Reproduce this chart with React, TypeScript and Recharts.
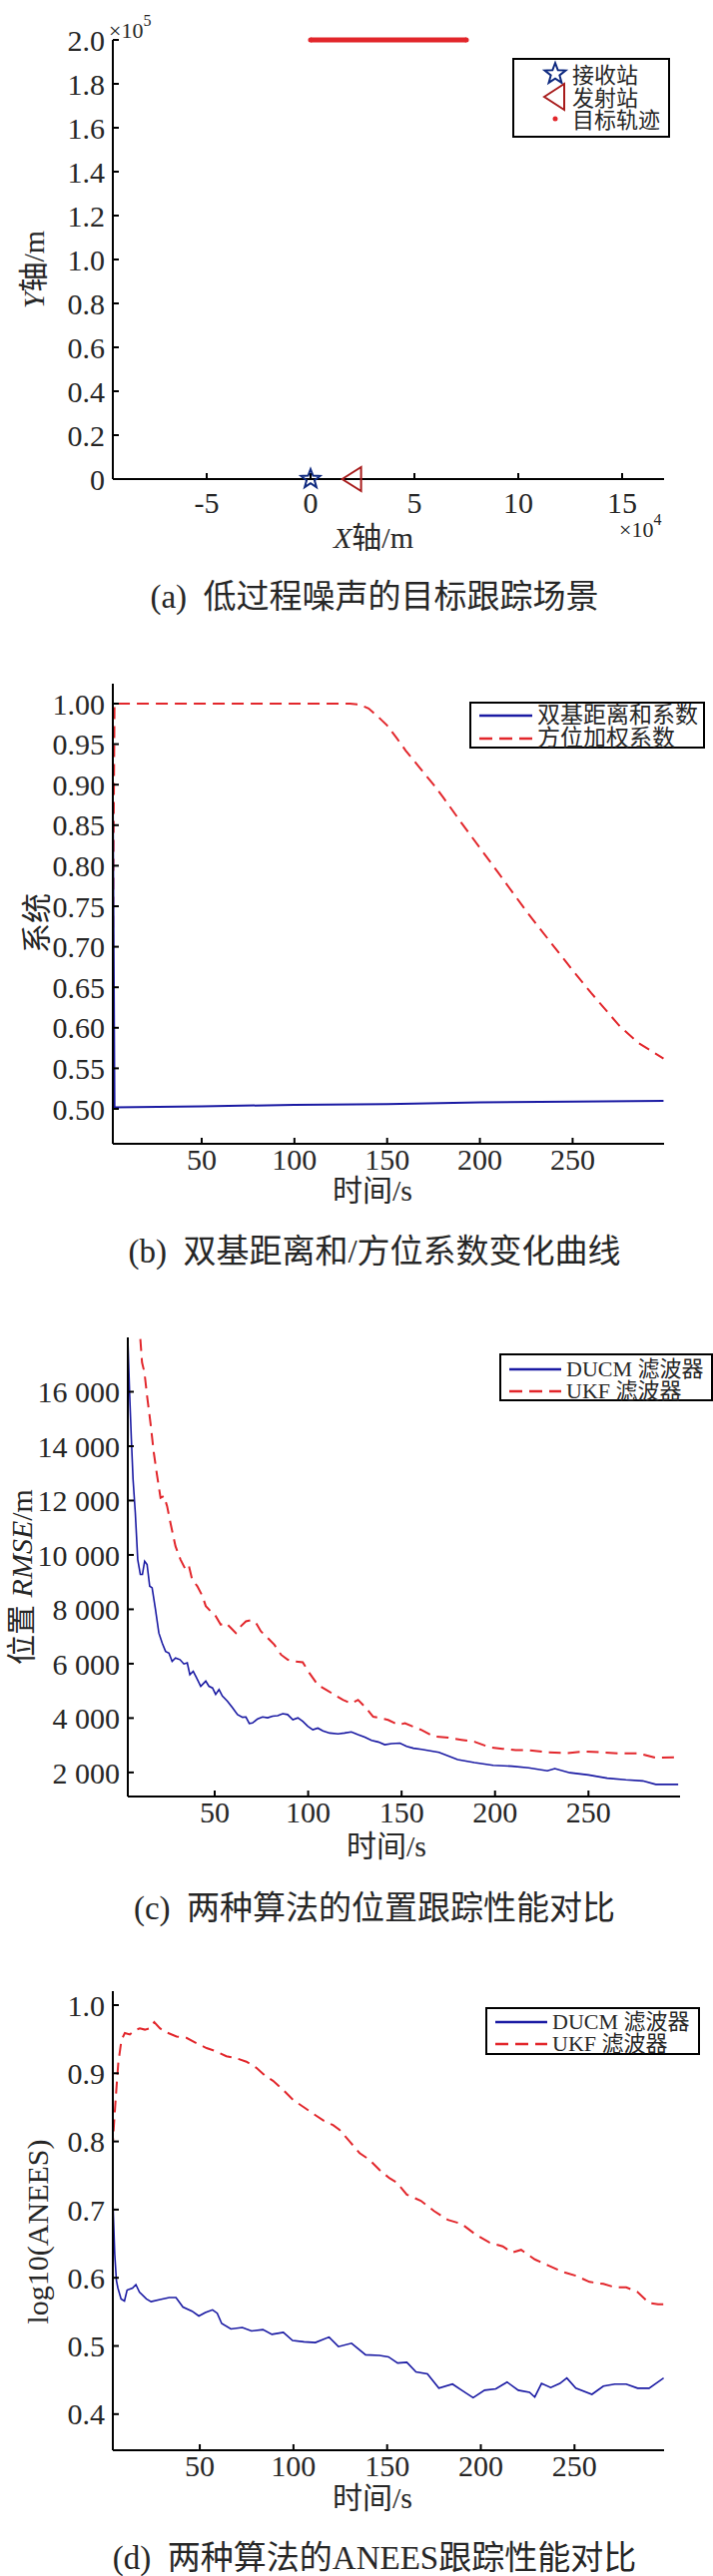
import React from 'react';
import { ScatterChart, Scatter, LineChart, Line, XAxis, YAxis, Legend, Label } from 'recharts';

const FONT = "'Liberation Serif', 'Noto Sans CJK SC', serif";
const INK = '#262626';
const BLUE = '#1a1aa3';
const RED = '#e2262b';
const DASH = '12 7';

// (a) scene
const receiverPos = [{ x: 0, y: 0 }];
const transmitterPos = [{ x: 20000, y: 0 }];
const targetTrack = [{ x: 0, y: 200000 }, { x: 75000, y: 200000 }];
const sceneXTicks = [-50000, 0, 50000, 100000, 150000];
const sceneYTicks = [0, 20000, 40000, 60000, 80000, 100000, 120000, 140000, 160000, 180000, 200000];

// (b) coefficients
const coefSumT = [2.1, 3, 50, 100, 150, 200, 250, 299];
const coefSumV = [0.88, 0.502, 0.503, 0.505, 0.506, 0.508, 0.509, 0.51];
const coefAzT = [2.1, 3, 50, 100, 130, 135, 140, 145, 150, 155, 160, 165, 170, 175, 180, 190, 200, 210, 225, 240, 250, 260, 275, 285, 299];
const coefAzV = [0.7, 1.0, 1.0, 1.0, 1.0, 0.999, 0.994, 0.984, 0.973, 0.958, 0.942, 0.928, 0.914, 0.9, 0.885, 0.853, 0.822, 0.791, 0.744, 0.7, 0.671, 0.643, 0.603, 0.582, 0.562];
const coefYTicks = [0.5, 0.55, 0.6, 0.65, 0.7, 0.75, 0.8, 0.85, 0.9, 0.95, 1.0];

// (c) position RMSE
const rmseDucmT = [3.5, 4.5, 5.4, 6.3, 7.5, 8.8, 10.2, 11.3, 12.5, 13.8, 15.2, 16.5, 18.3, 20.1, 21.9, 23.7, 25.5, 27.2, 29, 31.4, 33.5, 35.3, 36.7, 38.5, 40.3, 42.5, 45.2, 46.9, 48.8, 50.5, 52.3, 54.1, 56.8, 59.5, 62.2, 64.9, 66.7, 68.5, 70.2, 73, 75.6, 78.3, 81, 83.7, 86.4, 89, 91.8, 94.5, 97.1, 99.8, 102.5, 105.2, 107.9, 111.5, 116, 119.5, 123.1, 126.7, 130.3, 133.9, 137.5, 141, 144.6, 149.1, 152.7, 156.3, 160.7, 170, 180, 189, 199, 209, 218, 228, 232, 240, 250, 260, 270, 279, 286, 298];
const rmseDucmV = [17950, 15850, 14250, 12780, 11550, 9830, 9280, 9280, 9770, 9650, 8850, 8790, 7990, 7130, 6760, 6450, 6390, 6090, 6210, 6150, 5990, 6030, 5600, 5720, 5480, 5170, 5360, 5170, 5110, 4870, 5050, 4810, 4620, 4380, 4130, 4030, 4040, 3800, 3820, 3970, 4040, 4010, 4070, 4090, 4160, 4130, 3940, 4010, 3880, 3700, 3570, 3630, 3530, 3450, 3420, 3450, 3490, 3390, 3300, 3180, 3120, 3020, 3060, 3080, 2960, 2890, 2850, 2740, 2470, 2360, 2260, 2230, 2170, 2060, 2140, 1990, 1910, 1790, 1730, 1690, 1560, 1560];
const rmseUkfT = [10.2, 11.1, 12.4, 13.8, 15.6, 17.4, 19.2, 21, 22.8, 24.5, 26.3, 29, 31.7, 34.4, 36.2, 37.9, 40.7, 43.4, 45.2, 47.8, 50.5, 53.2, 55.9, 58.6, 61.3, 64, 66.7, 69.4, 72.1, 74.7, 78.3, 81.9, 85.5, 89, 92.6, 97.1, 100.7, 105.2, 109.7, 114.2, 118.6, 123.1, 126.7, 130.3, 134.8, 139.2, 142.8, 148.2, 151.8, 156.3, 160.7, 167, 175, 182, 189, 197, 204, 211, 218, 228, 238, 248, 257, 267, 277, 286, 298];
const rmseUkfV = [17940, 17080, 16710, 15850, 14870, 13760, 12900, 12100, 12170, 11800, 11180, 10320, 9830, 9460, 9590, 9100, 8850, 8490, 8120, 7930, 7750, 7440, 7500, 7320, 7130, 7380, 7560, 7600, 7500, 7190, 6950, 6700, 6330, 6150, 6090, 6050, 5650, 5220, 5040, 4850, 4670, 4540, 4670, 4420, 4050, 3990, 3930, 3750, 3810, 3680, 3560, 3330, 3280, 3200, 3130, 2930, 2870, 2820, 2820, 2740, 2710, 2770, 2740, 2700, 2700, 2540, 2560];
const rmseYTicks = [2000, 4000, 6000, 8000, 10000, 12000, 14000, 16000];

// (d) log10(ANEES)
const aneesDucmT = [3.4, 4.6, 5.5, 6.3, 8, 9.8, 11.2, 14.1, 15.9, 17.8, 21.5, 24, 28.8, 33.7, 37.3, 41, 45.9, 49.5, 53, 56.8, 59.3, 61.7, 66.6, 72.7, 77.6, 83.7, 88.5, 94.6, 99.5, 105.6, 111.7, 119, 124, 131, 138.5, 145.9, 150.7, 155.6, 160.5, 165.4, 171.5, 177.6, 184.9, 189.8, 195.9, 202, 208, 214, 220, 226, 228.8, 232.4, 237.3, 242.2, 245.9, 250.7, 259.3, 265.4, 271.5, 277.6, 283.7, 289.8, 297.6];
const aneesDucmV = [0.729, 0.635, 0.596, 0.585, 0.569, 0.566, 0.582, 0.585, 0.59, 0.579, 0.569, 0.565, 0.568, 0.571, 0.571, 0.557, 0.551, 0.544, 0.549, 0.553, 0.548, 0.533, 0.525, 0.527, 0.522, 0.524, 0.517, 0.52, 0.508, 0.506, 0.505, 0.513, 0.499, 0.504, 0.487, 0.486, 0.484, 0.475, 0.476, 0.462, 0.459, 0.438, 0.444, 0.435, 0.424, 0.435, 0.437, 0.447, 0.435, 0.432, 0.425, 0.445, 0.439, 0.445, 0.453, 0.438, 0.429, 0.441, 0.444, 0.444, 0.438, 0.438, 0.453];
const aneesUkfT = [3.4, 4.1, 5.2, 6.5, 8.2, 10, 12.7, 15.4, 18, 20.7, 23.3, 25.7, 28.7, 32.2, 37.6, 42.9, 48.2, 53.6, 58.9, 64.2, 69.5, 74.9, 80.2, 85.5, 89.1, 94.4, 99.8, 105.1, 110.4, 115.8, 121.1, 124.6, 130, 135.3, 140.6, 146, 151.3, 155, 160.5, 168, 175, 182.4, 189.8, 197, 204.4, 211.7, 216.6, 221.5, 228.8, 236, 243.4, 250.7, 258, 265.4, 271.5, 277.6, 283.7, 289.8, 294.6, 297.6];
const aneesUkfV = [0.787, 0.821, 0.866, 0.915, 0.949, 0.959, 0.957, 0.963, 0.966, 0.964, 0.966, 0.975, 0.966, 0.96, 0.954, 0.952, 0.944, 0.937, 0.932, 0.925, 0.922, 0.917, 0.908, 0.895, 0.889, 0.876, 0.861, 0.851, 0.841, 0.831, 0.824, 0.817, 0.8, 0.783, 0.773, 0.758, 0.746, 0.74, 0.722, 0.713, 0.698, 0.685, 0.679, 0.664, 0.652, 0.646, 0.637, 0.641, 0.627, 0.618, 0.609, 0.603, 0.594, 0.591, 0.586, 0.586, 0.579, 0.563, 0.561, 0.561];
const aneesYTicks = [0.4, 0.5, 0.6, 0.7, 0.8, 0.9, 1.0];

const timeTicks = [50, 100, 150, 200, 250];

const zip = (t: number[], v: number[]) => t.map((x, i) => ({ t: x, v: v[i] }));

const tickStyle = { fontSize: 30, fontFamily: FONT, fill: INK };
const axisLine = { stroke: '#000', strokeWidth: 2 };
const tickLine = { stroke: '#000', strokeWidth: 2 };

function starPath(cx: number, cy: number, R: number, r: number) {
  const pts: string[] = [];
  for (let i = 0; i < 10; i++) {
    const a = -Math.PI / 2 + (i * Math.PI) / 5;
    const rad = i % 2 === 0 ? R : r;
    pts.push(`${cx + rad * Math.cos(a)},${cy + rad * Math.sin(a)}`);
  }
  return 'M' + pts.join('L') + 'Z';
}

const StarShape = (p: any) => <path d={starPath(p.cx, p.cy, 10, 4.2)} fill="none" stroke="#0f2a80" strokeWidth={2} />;
const TriShape = (p: any) => (
  <path d={`M${p.cx - 10},${p.cy} L${p.cx + 9},${p.cy - 12} L${p.cx + 9},${p.cy + 12} Z`} fill="none" stroke="#a81c1c" strokeWidth={2} />
);
const DotShape = (p: any) => <circle cx={p.cx} cy={p.cy} r={2.5} fill={RED} />;

// fixed-position svg text for axis titles
const title = (el: React.ReactNode) => () => el as any;

function xTitle(x: number, y: number, body: React.ReactNode) {
  return (
    <text x={x} y={y} textAnchor="middle" dominantBaseline="central" fontSize={30} fontFamily={FONT} fill={INK}>
      {body}
    </text>
  );
}

function yTitle(x: number, y: number, body: React.ReactNode) {
  return (
    <text x={x} y={y} transform={`rotate(-90 ${x} ${y})`} textAnchor="middle" dominantBaseline="central" fontSize={30} fontFamily={FONT} fill={INK}>
      {body}
    </text>
  );
}

type Item = { label: string; mark: 'solid' | 'dash' };

function LineLegend({ w, h, rows, sample, textLeft, size }: { w: number; h: number; rows: number[]; sample: [number, number]; textLeft: number; size: number }) {
  const items: Item[] = size === 23
    ? [{ label: '双基距离和系数', mark: 'solid' }, { label: '方位加权系数', mark: 'dash' }]
    : [{ label: 'DUCM 滤波器', mark: 'solid' }, { label: 'UKF 滤波器', mark: 'dash' }];
  return (
    <div style={{ position: 'relative', boxSizing: 'border-box', width: w, height: h, border: '2px solid #000', background: '#fff', fontFamily: FONT, fontSize: size, color: INK }}>
      {items.map((it, i) => (
        <div key={it.label} style={{ position: 'absolute', left: 0, top: rows[i] - 14, height: 28, width: w - 4 }}>
          <svg width={sample[1]} height={28} style={{ position: 'absolute', left: 0, top: 0 }}>
            <line x1={sample[0]} x2={sample[1]} y1={14} y2={14} stroke={it.mark === 'solid' ? BLUE : RED} strokeWidth={2.5} strokeDasharray={it.mark === 'dash' ? '13 7' : undefined} />
          </svg>
          <span style={{ position: 'absolute', left: textLeft, top: 0, lineHeight: '28px', whiteSpace: 'nowrap' }}>{it.label}</span>
        </div>
      ))}
    </div>
  );
}

function SceneLegend() {
  const rows = [
    { label: '接收站', icon: <path d={starPath(43, 16, 11, 4.6)} fill="none" stroke="#0f2a80" strokeWidth={2} /> },
    { label: '发射站', icon: <path d="M32,39 L52,26 L52,52 Z" fill="none" stroke="#a81c1c" strokeWidth={2} /> },
    { label: '目标轨迹', icon: <circle cx={43} cy={61} r={2.5} fill={RED} /> },
  ];
  const ys = [16, 39, 61];
  return (
    <div style={{ position: 'relative', boxSizing: 'border-box', width: 158, height: 80, border: '2px solid #000', background: '#fff', fontFamily: FONT, fontSize: 22, color: INK }}>
      <svg width={60} height={80} style={{ position: 'absolute', left: -2, top: -2 }}>
        {rows.map((r) => <g key={r.label}>{r.icon}</g>)}
      </svg>
      {rows.map((r, i) => (
        <span key={r.label} style={{ position: 'absolute', left: 58, top: ys[i] - 14, lineHeight: '28px', whiteSpace: 'nowrap' }}>{r.label}</span>
      ))}
    </div>
  );
}

const captionStyle: React.CSSProperties = {
  position: 'absolute', left: 0, width: 750, textAlign: 'center', fontFamily: FONT, fontSize: 33, color: INK, lineHeight: '36px', whiteSpace: 'nowrap',
};

export default function App() {
  return (
    <div style={{ position: 'absolute', left: 0, top: 0, width: 714, height: 2581, background: '#fff', overflow: 'hidden' }}>
      {/* (a) */}
      <div style={{ position: 'absolute', left: 0, top: 0 }}>
        <ScatterChart width={714} height={560} margin={{ top: 40, right: 49, bottom: 0, left: 0 }}>
          <XAxis type="number" dataKey="x" domain={[-95192, 170192]} ticks={sceneXTicks} tickFormatter={(v: number) => String(v / 10000)}
            height={80} tick={tickStyle} axisLine={axisLine} tickLine={tickLine} tickSize={-6} tickMargin={18.6}>
            <Label content={title(
              <g>
                {xTitle(374, 538, <><tspan fontStyle="italic">X</tspan>轴/m</>)}
                <text x={620} y={538} fontSize={22} fontFamily={FONT} fill={INK}>×10<tspan dy={-12} fontSize={16}>4</tspan></text>
              </g>
            )} />
          </XAxis>
          <YAxis type="number" dataKey="y" domain={[0, 200000]} ticks={sceneYTicks} tickFormatter={(v: number) => (v === 0 ? '0' : (v / 100000).toFixed(1))}
            width={113} tick={tickStyle} axisLine={axisLine} tickLine={tickLine} tickSize={-6} tickMargin={14}>
            <Label content={title(
              <g>
                {yTitle(33, 270, <><tspan fontStyle="italic">Y</tspan>轴/m</>)}
                <text x={109} y={38} fontSize={22} fontFamily={FONT} fill={INK}>×10<tspan dy={-12} fontSize={16}>5</tspan></text>
              </g>
            )} />
          </YAxis>
          <Scatter data={targetTrack} line={{ stroke: RED, strokeWidth: 5 }} shape={DotShape} isAnimationActive={false} />
          <Scatter data={receiverPos} shape={StarShape} isAnimationActive={false} />
          <Scatter data={transmitterPos} shape={TriShape} isAnimationActive={false} />
          <Legend layout="horizontal" verticalAlign="middle" align="center" wrapperStyle={{ left: 513, top: 58, width: 158, height: 80 }} content={() => <SceneLegend />} />
        </ScatterChart>
      </div>
      <div style={{ ...captionStyle, top: 580 }}>(a)&ensp;低过程噪声的目标跟踪场景</div>

      {/* (b) */}
      <div style={{ position: 'absolute', left: 0, top: 660 }}>
        <LineChart width={714} height={560} margin={{ top: 25, right: 49, bottom: 0, left: 0 }}>
          <XAxis type="number" dataKey="t" domain={[2.1, 299.3]} ticks={timeTicks} allowDataOverflow
            height={74} tick={tickStyle} axisLine={axisLine} tickLine={tickLine} tickSize={-6} tickMargin={11}>
            <Label content={title(xTitle(373, 532, '时间/s'))} />
          </XAxis>
          <YAxis type="number" domain={[0.4569, 1.0246]} ticks={coefYTicks} tickFormatter={(v: number) => v.toFixed(2)} allowDataOverflow
            width={113} tick={tickStyle} axisLine={axisLine} tickLine={tickLine} tickSize={-6} tickMargin={14}>
            <Label content={title(yTitle(36, 265, '系统'))} />
          </YAxis>
          <Line data={zip(coefAzT, coefAzV)} dataKey="v" type="linear" stroke={RED} strokeWidth={2} strokeDasharray={DASH} dot={false} isAnimationActive={false} />
          <Line data={zip(coefSumT, coefSumV)} dataKey="v" type="linear" stroke={BLUE} strokeWidth={2} dot={false} isAnimationActive={false} />
          <Legend layout="horizontal" verticalAlign="middle" align="center" wrapperStyle={{ left: 470, top: 43, width: 236, height: 47 }}
            content={() => <LineLegend w={236} h={47} rows={[12, 34.5]} sample={[8, 61]} textLeft={66} size={23} />} />
        </LineChart>
      </div>
      <div style={{ ...captionStyle, top: 1236 }}>(b)&ensp;双基距离和/方位系数变化曲线</div>

      {/* (c) */}
      <div style={{ position: 'absolute', left: 0, top: 1310 }}>
        <LineChart width={714} height={560} margin={{ top: 30, right: 33, bottom: 0, left: 0 }}>
          <XAxis type="number" dataKey="t" domain={[3.5, 299]} ticks={timeTicks} allowDataOverflow
            height={70} tick={tickStyle} axisLine={axisLine} tickLine={tickLine} tickSize={-6} tickMargin={11}>
            <Label content={title(xTitle(387, 539, '时间/s'))} />
          </XAxis>
          <YAxis type="number" domain={[1115, 18000]} ticks={rmseYTicks} tickFormatter={(v: number) => `${v / 1000} 000`} allowDataOverflow
            width={128} tick={tickStyle} axisLine={axisLine} tickLine={tickLine} tickSize={-6} tickMargin={14}>
            <Label content={title(yTitle(21, 270, <>位置 <tspan fontStyle="italic">RMSE</tspan>/m</>))} />
          </YAxis>
          <Line data={zip(rmseUkfT, rmseUkfV)} dataKey="v" type="linear" stroke={RED} strokeWidth={2} strokeDasharray={DASH} dot={false} isAnimationActive={false} />
          <Line data={zip(rmseDucmT, rmseDucmV)} dataKey="v" type="linear" stroke={BLUE} strokeWidth={1.6} dot={false} isAnimationActive={false} />
          <Legend layout="horizontal" verticalAlign="middle" align="center" wrapperStyle={{ left: 500, top: 46, width: 214, height: 48 }}
            content={() => <LineLegend w={214} h={48} rows={[13.6, 35.7]} sample={[8, 60]} textLeft={65} size={22} />} />
        </LineChart>
      </div>
      <div style={{ ...captionStyle, top: 1894 }}>(c)&ensp;两种算法的位置跟踪性能对比</div>

      {/* (d) */}
      <div style={{ position: 'absolute', left: 0, top: 1965 }}>
        <LineChart width={714} height={560} margin={{ top: 30, right: 49, bottom: 0, left: 0 }}>
          <XAxis type="number" dataKey="t" domain={[3.6, 297.8]} ticks={timeTicks} allowDataOverflow
            height={70} tick={tickStyle} axisLine={axisLine} tickLine={tickLine} tickSize={-6} tickMargin={11}>
            <Label content={title(xTitle(373, 537, '时间/s'))} />
          </XAxis>
          <YAxis type="number" domain={[0.347, 1.0205]} ticks={aneesYTicks} tickFormatter={(v: number) => v.toFixed(1)} allowDataOverflow
            width={113} tick={tickStyle} axisLine={axisLine} tickLine={tickLine} tickSize={-6} tickMargin={14}>
            <Label content={title(yTitle(37, 271, 'log10(ANEES)'))} />
          </YAxis>
          <Line data={zip(aneesUkfT, aneesUkfV)} dataKey="v" type="linear" stroke={RED} strokeWidth={2} strokeDasharray={DASH} dot={false} isAnimationActive={false} />
          <Line data={zip(aneesDucmT, aneesDucmV)} dataKey="v" type="linear" stroke={BLUE} strokeWidth={1.6} dot={false} isAnimationActive={false} />
          <Legend layout="horizontal" verticalAlign="middle" align="center" wrapperStyle={{ left: 486, top: 46, width: 215, height: 48 }}
            content={() => <LineLegend w={215} h={48} rows={[13, 35]} sample={[8, 60]} textLeft={65} size={22} />} />
        </LineChart>
      </div>
      <div style={{ ...captionStyle, top: 2545 }}>(d)&ensp;两种算法的ANEES跟踪性能对比</div>
    </div>
  );
}
